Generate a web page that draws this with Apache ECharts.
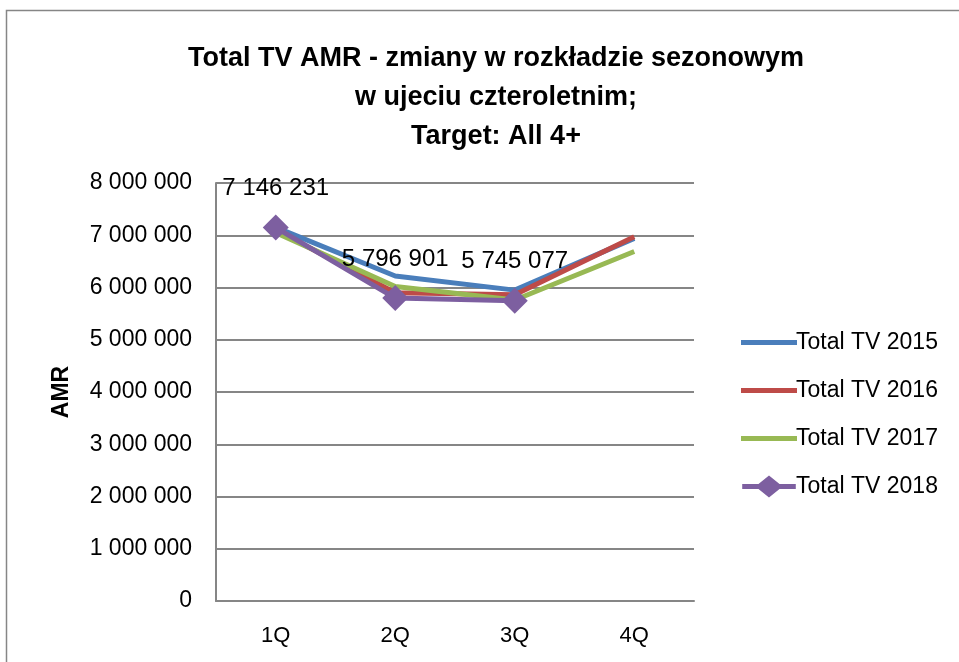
<!DOCTYPE html>
<html><head><meta charset="utf-8">
<script src="https://cdn.jsdelivr.net/npm/echarts@6/dist/echarts.min.js"></script>
<style>html,body{margin:0;padding:0;background:#fff}#c{width:959px;height:662px}</style>
</head><body><div id="c"></div>
<script>
const categories = ['1Q','2Q','3Q','4Q'];
const s2015 = [7150000, 6220000, 5950000, 6940000];
const s2016 = [7100000, 5900000, 5860000, 6970000];
const s2017 = [7050000, 6020000, 5760000, 6690000];
const s2018 = [7146231, 5796901, 5745077, null];
const yTicks = [0,1000000,2000000,3000000,4000000,5000000,6000000,7000000,8000000];
const FONT = '"Liberation Sans",sans-serif';
function fmt(v){return String(Math.round(v)).replace(/\B(?=(\d{3})+(?!\d))/g,' ');}
const chart = echarts.init(document.getElementById('c'));
const lineSeries = (name, data, color, extra) => Object.assign({
  name, type:'line', data, symbol:'none', lineStyle:{width:5,color}, itemStyle:{color},
  emphasis:{disabled:true}, animation:false
}, extra||{});
const lineIcon = 'path://M0,8h56v5h-56z';
const diamondIcon = 'path://M0,8h17l11,-9l11,9h17v5h-17l-11,9l-11,-9h-17z';
chart.setOption({
  animation:false,
  graphic:[{type:'rect',shape:{x:6.5,y:10.5,width:1000,height:1000},style:{fill:'none',stroke:'#868686',lineWidth:1.5},silent:true}],
  title:{text:'Total TV AMR - zmiany w rozkładzie sezonowym\nw ujeciu czteroletnim;\nTarget: All 4+',left:491,textAlign:'center',top:34,
    textStyle:{fontFamily:FONT,fontSize:27,fontWeight:'bold',color:'#000',lineHeight:39}},
  grid:{left:216,right:265,top:183,bottom:61,containLabel:false},
  legend:{orient:'vertical',left:736,top:326,itemGap:25,itemWidth:56,itemHeight:22,
    textStyle:{fontFamily:FONT,fontSize:23,color:'#000',padding:[0,0,0,-6]},
    data:[{name:'Total TV 2015',icon:lineIcon},{name:'Total TV 2016',icon:lineIcon},
          {name:'Total TV 2017',icon:lineIcon},{name:'Total TV 2018',icon:diamondIcon}]},
  xAxis:{type:'category',data:categories,boundaryGap:true,
    axisLine:{lineStyle:{color:'#868686',width:2}},axisTick:{show:false},
    axisLabel:{fontFamily:FONT,fontSize:22,color:'#000',margin:24}},
  yAxis:{type:'value',min:0,max:8000000,interval:1000000,name:'AMR',nameLocation:'middle',nameGap:143,
    nameTextStyle:{fontFamily:FONT,fontSize:23,fontWeight:'bold',color:'#000'},
    axisLine:{show:true,lineStyle:{color:'#868686',width:2}},axisTick:{show:false},
    splitLine:{lineStyle:{color:'#868686',width:2}},
    axisLabel:{fontFamily:FONT,fontSize:23,color:'#000',margin:24,formatter:v=>yTicks.includes(v)?fmt(v):''}},
  series:[
    lineSeries('Total TV 2015', s2015, '#4a7ebb'),
    lineSeries('Total TV 2016', s2016, '#be4b48'),
    lineSeries('Total TV 2017', s2017, '#98b954'),
    lineSeries('Total TV 2018', s2018, '#7d5fa0', {symbol:'diamond',symbolSize:26,
      label:{show:true,position:'top',distance:14,fontFamily:FONT,fontSize:24,color:'#000',formatter:p=>fmt(p.value)}})
  ]
});
</script></body></html>
